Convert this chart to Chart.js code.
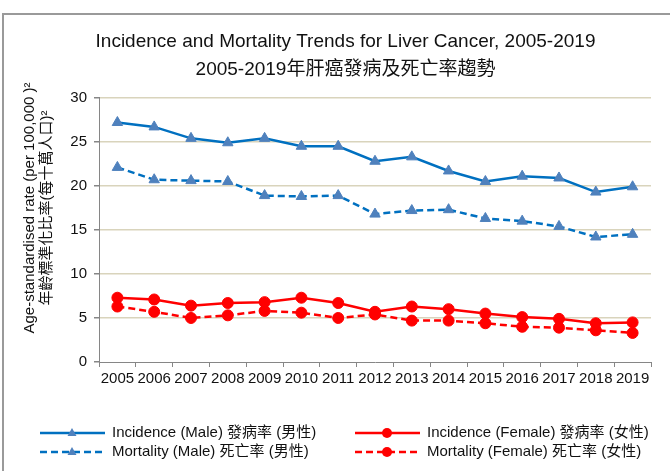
<!DOCTYPE html>
<html>
<head>
<meta charset="utf-8">
<script src="https://cdn.jsdelivr.net/npm/chart.js@4/dist/chart.umd.min.js"></script>
<style>
    html, body { margin: 0; padding: 0; background: #fff; }
    #wrap { width: 670px; height: 471px; }
</style>
</head>
<body>
<div id="wrap"><canvas id="liverChart" width="670" height="471"></canvas></div>
<script>
// Datele graficului
const years = ["2005", "2006", "2007", "2008", "2009", "2010", "2011", "2012",
               "2013", "2014", "2015", "2016", "2017", "2018", "2019"];
const incidenceMale = [27.2, 26.7, 25.4, 24.9, 25.4, 24.5, 24.5, 22.8, 23.3, 21.7, 20.5, 21.1, 20.9, 19.3, 19.9];
const mortalityMale = [22.1, 20.7, 20.6, 20.5, 18.9, 18.8, 18.9, 16.8, 17.2, 17.3, 16.3, 16.0, 15.4, 14.2, 14.5];
const incidenceFemale = [7.3, 7.1, 6.4, 6.7, 6.8, 7.3, 6.7, 5.7, 6.3, 6.0, 5.5, 5.1, 4.9, 4.4, 4.5];
const mortalityFemale = [6.3, 5.7, 5.0, 5.3, 5.8, 5.6, 5.0, 5.4, 4.7, 4.7, 4.4, 4.0, 3.9, 3.6, 3.3];
const yTicks = [0, 5, 10, 15, 20, 25, 30];

const titleLines = ["Incidence and Mortality Trends for Liver Cancer, 2005-2019", "2005-2019年肝癌發病及死亡率趨勢"];
const yTitleLines = ["Age-standardised rate (per 100,000 )²", "年齡標準化比率(每十萬人口)²"];

const FONT = "'Liberation Sans', Arial, 'Noto Sans CJK TC', sans-serif";
const BLUE = "#0070C0";
const BLUE_MARK = "#4F81BD";
const RED = "#FF0000";

// Chenarul exterior gri
const frame = {
    id: "frame",
    beforeDraw(chart) {
        const ctx = chart.ctx;
        ctx.save();
        ctx.fillStyle = "#fff";
        ctx.fillRect(0, 0, chart.width, chart.height);
        ctx.strokeStyle = "#9a9a9a";
        ctx.lineWidth = 2;
        ctx.strokeRect(3, 14, chart.width + 10, chart.height + 10);
        ctx.restore();
    }
};

// Titlul axei Y (două rânduri, rotit)
const yTitle = {
    id: "yTitle",
    afterDraw(chart) {
        const ctx = chart.ctx;
        ctx.save();
        ctx.translate(30, 208);
        ctx.rotate(-Math.PI / 2);
        ctx.fillStyle = "#111";
        ctx.textAlign = "center";
        ctx.textBaseline = "middle";
        ctx.font = "15px " + FONT;
        ctx.fillText(yTitleLines[0], 0, 0);
        ctx.fillText(yTitleLines[1], 0, 17);
        ctx.restore();
    }
};

// Legenda desenată manual: linie + marker
const lineLegend = {
    id: "lineLegend",
    afterDraw(chart) {
        const ctx = chart.ctx;
        const cols = [40, 355];
        const rows = [433, 452];
        chart.data.datasets.forEach((ds, i) => {
            const x = cols[i % 2];
            const y = rows[Math.floor(i / 2)];
            ctx.save();
            ctx.strokeStyle = ds.borderColor;
            ctx.lineWidth = ds.borderWidth;
            ctx.setLineDash(ds.borderDash || []);
            ctx.beginPath();
            ctx.moveTo(x, y);
            ctx.lineTo(x + 65, y);
            ctx.stroke();
            ctx.setLineDash([]);
            ctx.fillStyle = ds.pointBackgroundColor;
            const mx = x + 32;
            if (ds.pointStyle === "triangle") {
                const r = 5;
                ctx.beginPath();
                ctx.moveTo(mx, y - r);
                ctx.lineTo(mx + r * 0.9, y + r * 0.6);
                ctx.lineTo(mx - r * 0.9, y + r * 0.6);
                ctx.closePath();
                ctx.fill();
            } else {
                ctx.beginPath();
                ctx.arc(mx, y, 5, 0, Math.PI * 2);
                ctx.fill();
            }
            ctx.fillStyle = "#111";
            ctx.font = "15px " + FONT;
            ctx.textAlign = "left";
            ctx.textBaseline = "middle";
            ctx.fillText(ds.label, x + 72, y);
            ctx.restore();
        });
    }
};

function series(label, data, color, markColor, dashed, style) {
    return {
        label: label,
        data: data,
        borderColor: color,
        borderWidth: 2.5,
        borderDash: dashed ? [7, 4] : [],
        pointStyle: style,
        pointRadius: style === "triangle" ? 6 : 5.5,
        pointBackgroundColor: markColor,
        pointBorderColor: markColor,
        pointBorderWidth: 1,
        tension: 0,
        fill: false
    };
}

const ctx = document.getElementById("liverChart").getContext("2d");
new Chart(ctx, {
    type: "line",
    data: {
        labels: years,
        datasets: [
            series("Incidence (Male) 發病率 (男性)", incidenceMale, BLUE, BLUE_MARK, false, "triangle"),
            series("Incidence (Female) 發病率 (女性)", incidenceFemale, RED, RED, false, "circle"),
            series("Mortality (Male) 死亡率 (男性)", mortalityMale, BLUE, BLUE_MARK, true, "triangle"),
            series("Mortality (Female) 死亡率 (女性)", mortalityFemale, RED, RED, true, "circle")
        ]
    },
    options: {
        responsive: false,
        animation: false,
        // padding stânga mai mare ca titlul să fie centrat ca în original
        layout: { padding: { left: 40, right: 19, top: 28, bottom: 79 } },
        plugins: {
            legend: { display: false },
            tooltip: { enabled: false },
            title: {
                display: true,
                text: titleLines,
                color: "#111",
                font: { family: FONT, size: 19, weight: "normal", lineHeight: 1.47 },
                padding: { top: 0, bottom: 14 }
            }
        },
        scales: {
            x: {
                offset: true,
                grid: {
                    offset: true,
                    drawOnChartArea: false,
                    drawTicks: true,
                    tickLength: 5,
                    tickColor: "#868686"
                },
                border: { color: "#868686", width: 1 },
                ticks: {
                    color: "#111",
                    font: { family: FONT, size: 15 },
                    padding: 3,
                    autoSkip: false,
                    maxRotation: 0,
                    minRotation: 0
                },
                afterFit(scale) { scale.height = 30; }
            },
            y: {
                min: yTicks[0],
                max: yTicks[yTicks.length - 1],
                afterBuildTicks(scale) { scale.ticks = yTicks.map(v => ({ value: v })); },
                grid: {
                    color: c => (c.tick && c.tick.value === 0 ? "rgba(0,0,0,0)" : "#D9D4BC"),
                    lineWidth: 1.5,
                    tickLength: 5,
                    tickColor: "#868686"
                },
                border: { color: "#868686", width: 1 },
                ticks: {
                    color: "#111",
                    font: { family: FONT, size: 15 },
                    padding: 7
                },
                afterFit(scale) { scale.width = 59; }
            }
        }
    },
    plugins: [frame, yTitle, lineLegend]
});
</script>
</body>
</html>
